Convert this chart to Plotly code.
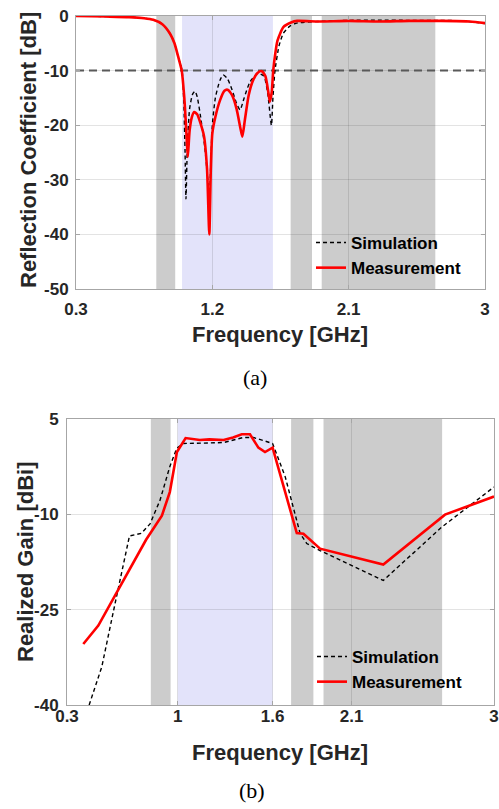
import plotly.graph_objects as go

# ---------------- data (a) reflection coefficient ----------------
f_meas_a = [0.3, 0.5, 0.65, 0.75, 0.81, 0.87, 0.92, 0.95, 0.975, 0.998, 1.015, 1.03, 1.038,
            1.05, 1.065, 1.08, 1.1, 1.12, 1.145, 1.165, 1.18, 1.19, 1.2, 1.22, 1.25, 1.28,
            1.30, 1.33, 1.36, 1.385, 1.398, 1.415, 1.44, 1.47, 1.50, 1.526, 1.55, 1.57, 1.58,
            1.592, 1.602, 1.615, 1.63, 1.67, 1.72, 1.76, 1.9, 2.1, 2.3, 2.5, 2.7, 2.9, 3.0]
s11_meas = [0.0, -0.1, -0.2, -0.4, -0.7, -1.5, -3.2, -5.0, -7.5, -10, -15, -22, -25.8,
            -21, -18.5, -17.6, -18, -19.5, -22, -28, -40, -28, -21.5, -18.5, -15.5, -13.7,
            -13.5, -14.5, -17, -20.5, -22.1, -19, -14.5, -11.7, -10.4, -10.1, -11, -14, -15.7,
            -14, -10, -7, -4.5, -2, -1.2, -0.9, -1.0, -0.9, -1.0, -0.9, -0.9, -1.0, -1.3]

f_sim_a = [0.3, 0.5, 0.65, 0.75, 0.81, 0.87, 0.92, 0.95, 0.975, 1.0, 1.012, 1.02, 1.026,
           1.035, 1.05, 1.07, 1.086, 1.1, 1.12, 1.15, 1.17, 1.18, 1.19, 1.2, 1.22, 1.25,
           1.272, 1.30, 1.33, 1.36, 1.383, 1.41, 1.45, 1.50, 1.54, 1.565, 1.59, 1.60, 1.614,
           1.64, 1.668, 1.71, 1.757, 1.9, 2.1, 2.3, 2.5, 2.7, 2.85, 3.0]
s11_sim = [0.0, -0.1, -0.2, -0.4, -0.7, -1.5, -3.2, -5.0, -7.5, -10, -16, -25, -33.5,
           -24, -17, -14.3, -13.8, -14.8, -18, -24, -30, -34, -27, -20, -15, -11.8,
           -10.8, -11.5, -13.5, -16, -17.2, -15, -12, -10.5, -11, -14, -20, -15, -9.9,
           -5.5, -3.2, -1.9, -1.3, -1.0, -0.8, -0.75, -0.8, -0.8, -0.9, -1.4]

threshold_db = -10

# ---------------- data (b) realized gain ----------------
f_meas_b = [0.403, 0.498, 0.8, 0.9, 0.95, 0.995, 1.05, 1.14, 1.2, 1.29, 1.35, 1.405, 1.457,
            1.51, 1.552, 1.6, 1.753, 1.795, 1.9, 2.3, 2.69, 3.0]
gain_meas = [-30.4, -27.5, -14.0, -10.2, -6.5, -0.2, 2.0, 1.7, 1.8, 1.7, 2.1, 2.6, 2.6,
             0.5, -0.2, 0.5, -12.95, -13.05, -15.4, -17.9, -10.05, -7.2]

f_sim_b = [0.44, 0.52, 0.6, 0.667, 0.695, 0.77, 0.825, 0.888, 0.95, 0.994, 1.036, 1.15,
           1.29, 1.415, 1.478, 1.6, 1.68, 1.774, 1.816, 1.9, 2.3, 2.67, 3.0]
gain_sim = [-40, -34, -24.5, -16.7, -13.4, -13.0, -11.5, -7.8, -2.5, 0.4, 1.15, 1.2,
            1.3, 2.1, 2.1, 1.15, -4.1, -13.0, -14.6, -15.7, -20.4, -12.0, -5.7]

# shaded frequency bands (GHz)
gray_bands = [(0.83, 0.955), (1.717, 1.858), (1.922, 2.672)]
blue_band = (1.0, 1.6)

# axis ticks
xt_a = [0.3, 1.2, 2.1, 3]
xt_a_txt = ["0.3", "1.2", "2.1", "3"]
yt_a = [0, -10, -20, -30, -40, -50]
yt_a_txt = ["0", "-10", "-20", "-30", "-40", "-50"]
xt_b = [0.3, 1, 1.6, 2.1, 3]
xt_b_txt = ["0.3", "1", "1.6", "2.1", "3"]
yt_b = [5, -10, -25, -40]
yt_b_txt = ["5", "-10", "-25", "-40"]

# ---------------- figure ----------------
W, H = 499, 809
FONT = "Liberation Sans, Arial, sans-serif"
TXT = "#262626"

fig = go.Figure()

# threshold line (a)
fig.add_trace(go.Scatter(x=[0.3, 3], y=[threshold_db, threshold_db], mode="lines",
                         line=dict(color="#595959", width=2, dash="8px,5px"),
                         showlegend=False, hoverinfo="skip", xaxis="x", yaxis="y"))

fig.add_trace(go.Scatter(x=f_sim_a, y=s11_sim, mode="lines", name="Simulation",
                         line=dict(color="black", width=1.4, dash="4px,3px", shape="spline", smoothing=0.6),
                         xaxis="x", yaxis="y", legend="legend"))
fig.add_trace(go.Scatter(x=f_meas_a, y=s11_meas, mode="lines", name="Measurement",
                         line=dict(color="#ff0000", width=2.6, shape="spline", smoothing=0.6),
                         xaxis="x", yaxis="y", legend="legend"))

fig.add_trace(go.Scatter(x=f_sim_b, y=gain_sim, mode="lines", name="Simulation",
                         line=dict(color="black", width=1.4, dash="4px,3px"),
                         xaxis="x2", yaxis="y2", legend="legend2"))
fig.add_trace(go.Scatter(x=f_meas_b, y=gain_meas, mode="lines", name="Measurement",
                         line=dict(color="#ff0000", width=2.6),
                         xaxis="x2", yaxis="y2", legend="legend2"))

shapes = []
for xr, yr in (("x", "y domain"), ("x2", "y2 domain")):
    for a, b in gray_bands:
        shapes.append(dict(type="rect", xref=xr, yref=yr, x0=a, x1=b, y0=0, y1=1,
                           fillcolor="rgb(204,204,204)", line=dict(width=0), layer="below"))
    shapes.append(dict(type="rect", xref=xr, yref=yr, x0=blue_band[0], x1=blue_band[1], y0=0, y1=1,
                       fillcolor="rgb(227,227,250)", line=dict(width=0), layer="below"))

axis_common = dict(showline=True, mirror="ticks", linecolor="#a6a6a6", linewidth=1,
                   ticks="inside", ticklen=4, tickcolor="#a6a6a6", automargin=False,
                   showgrid=True, gridcolor="rgba(38,38,38,0.13)", gridwidth=1,
                   zeroline=False, tickfont=dict(family=FONT, size=17, color=TXT, weight="bold"))

fig.update_layout(
    width=W, height=H, margin=dict(l=0, r=0, t=0, b=0, pad=0),
    paper_bgcolor="white", plot_bgcolor="white",
    shapes=shapes,
    xaxis=dict(domain=[76 / W, 485 / W], range=[0.3, 3], tickvals=xt_a, ticktext=xt_a_txt,
               anchor="y", ticklabelstandoff=5, **axis_common),
    yaxis=dict(domain=[1 - 289 / H, 1 - 16 / H], range=[-50, 0], tickvals=yt_a, ticktext=yt_a_txt,
               anchor="x", ticklabelstandoff=3, **axis_common),
    xaxis2=dict(domain=[67 / W, 494 / W], range=[0.3, 3], tickvals=xt_b, ticktext=xt_b_txt,
                anchor="y2", ticklabelstandoff=-4, **axis_common),
    yaxis2=dict(domain=[1 - 705 / H, 1 - 419 / H], range=[-40, 5], tickvals=yt_b, ticktext=yt_b_txt,
                anchor="x2", ticklabelstandoff=4, **axis_common),
    legend=dict(x=311 / W, y=1 - 225 / H, xanchor="left", yanchor="top",
                bgcolor="rgba(0,0,0,0)", borderwidth=0, tracegroupgap=0,
                font=dict(family=FONT, size=17, color="black", weight="bold")),
    legend2=dict(x=312 / W, y=1 - 639 / H, xanchor="left", yanchor="top",
                 bgcolor="rgba(0,0,0,0)", borderwidth=0, tracegroupgap=0,
                 font=dict(family=FONT, size=17, color="black", weight="bold")),
    annotations=[
        dict(text="Frequency [GHz]", x=280 / W, y=1 - 334 / H, xref="paper", yref="paper",
             showarrow=False, xanchor="center", yanchor="middle",
             font=dict(family=FONT, size=22, color=TXT, weight="bold")),
        dict(text="Reflection Coefficient [dB]", x=28 / W, y=1 - 150 / H, xref="paper", yref="paper",
             showarrow=False, xanchor="center", yanchor="middle", textangle=-90,
             font=dict(family=FONT, size=22, color=TXT, weight="bold")),
        dict(text="Frequency [GHz]", x=280 / W, y=1 - 752 / H, xref="paper", yref="paper",
             showarrow=False, xanchor="center", yanchor="middle",
             font=dict(family=FONT, size=22, color=TXT, weight="bold")),
        dict(text="Realized Gain [dBi]", x=25 / W, y=1 - 562 / H, xref="paper", yref="paper",
             showarrow=False, xanchor="center", yanchor="middle", textangle=-90,
             font=dict(family=FONT, size=22, color=TXT, weight="bold")),
        dict(text="(a)", x=255 / W, y=1 - 378 / H, xref="paper", yref="paper",
             showarrow=False, xanchor="center", yanchor="middle",
             font=dict(family="Liberation Serif, serif", size=22, color="black")),
        dict(text="(b)", x=252 / W, y=1 - 790 / H, xref="paper", yref="paper",
             showarrow=False, xanchor="center", yanchor="middle",
             font=dict(family="Liberation Serif, serif", size=22, color="black")),
    ],
)

fig.write_html("out.html")
